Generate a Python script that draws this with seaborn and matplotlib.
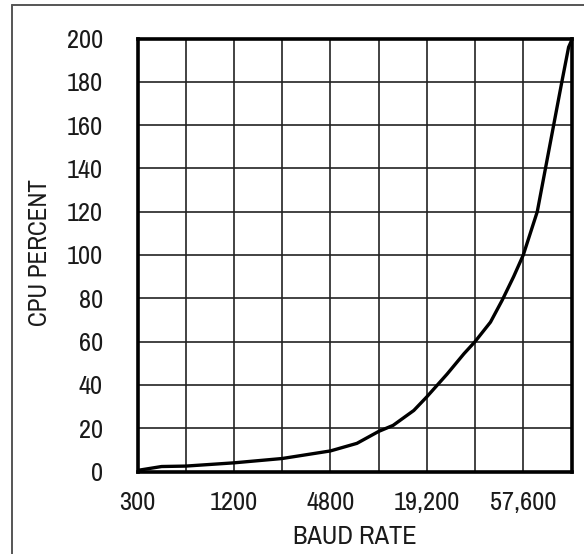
import matplotlib
matplotlib.use("Agg")
import matplotlib.pyplot as plt
from matplotlib.lines import Line2D
import seaborn as sns
import pandas as pd

# Data (x in grid-step units: each vertical gridline is one standard baud rate)
baud_rates = ["300", "600", "1200", "2400", "4800", "9600", "19,200", "38,400", "57,600", "115,200"]
shown_labels = ["300", "", "1200", "", "4800", "", "19,200", "", "57,600", ""]
curve_pos = [0, 0.5, 1, 2, 3, 4, 4.55, 5, 5.3, 5.73, 6, 6.42, 6.77, 7, 7.32, 7.56,
             7.8, 8, 8.29, 8.46, 8.63, 8.8, 8.94, 9]
cpu_percent = [0.5, 2.3, 2.5, 4, 6, 9.5, 13, 18.5, 21.3, 28.2, 34.5, 45, 54.4, 60, 69, 79,
               90, 100, 120, 140, 160, 180, 196, 199]
y_ticks = [0, 20, 40, 60, 80, 100, 120, 140, 160, 180, 200]

sns.set_style("white")
plt.rcParams['font.family'] = ['Archivo Narrow', 'Barlow Condensed', 'DejaVu Sans']

W, H = 584, 554
fig = plt.figure(figsize=(W / 100, H / 100), dpi=100)
ax = fig.add_axes([137.5 / W, 1 - 471.5 / H, (571.5 - 137.5) / W, (471.5 - 38.5) / H])

df = pd.DataFrame({"pos": curve_pos, "cpu": cpu_percent})
sns.lineplot(data=df, x="pos", y="cpu", ax=ax, color="black", linewidth=2.4,
             estimator=None, sort=False)

ax.set_xlim(0, len(baud_rates) - 1)
ax.set_ylim(0, 200)
ax.set_xticks(range(len(baud_rates)))
ax.set_xticklabels(shown_labels)
ax.set_yticks(y_ticks)
ax.set_yticklabels([str(v) for v in y_ticks])
ax.grid(True, color="#222222", linewidth=1.2)
ax.set_axisbelow(True)
for s in ax.spines.values():
    s.set_visible(True)
    s.set_color("black")
    s.set_linewidth(2.6)
ax.tick_params(axis="both", length=0, labelsize=19, colors="#1a1a1a")
ax.tick_params(axis="y", pad=25)
ax.tick_params(axis="x", pad=14)
ax.set_xlabel("")
ax.set_ylabel("")

fig.text(0.5 * (137.5 + 571.5) / W, 1 - 537 / H, "BAUD RATE", ha="center", va="center",
         fontsize=19, color="#1a1a1a")
fig.text(40 / W, 1 - 253 / H, "CPU PERCENT", ha="center", va="center", rotation=90,
         fontsize=18, color="#1a1a1a")

# outer frame (left and top edges visible)
fig.add_artist(Line2D([12 / W, 12 / W], [0, 1 - 5 / H], transform=fig.transFigure,
                      color="#555555", linewidth=1.4))
fig.add_artist(Line2D([12 / W, 1], [1 - 5 / H, 1 - 5 / H], transform=fig.transFigure,
                      color="#555555", linewidth=1.4))

fig.savefig("out.png", dpi=100)
